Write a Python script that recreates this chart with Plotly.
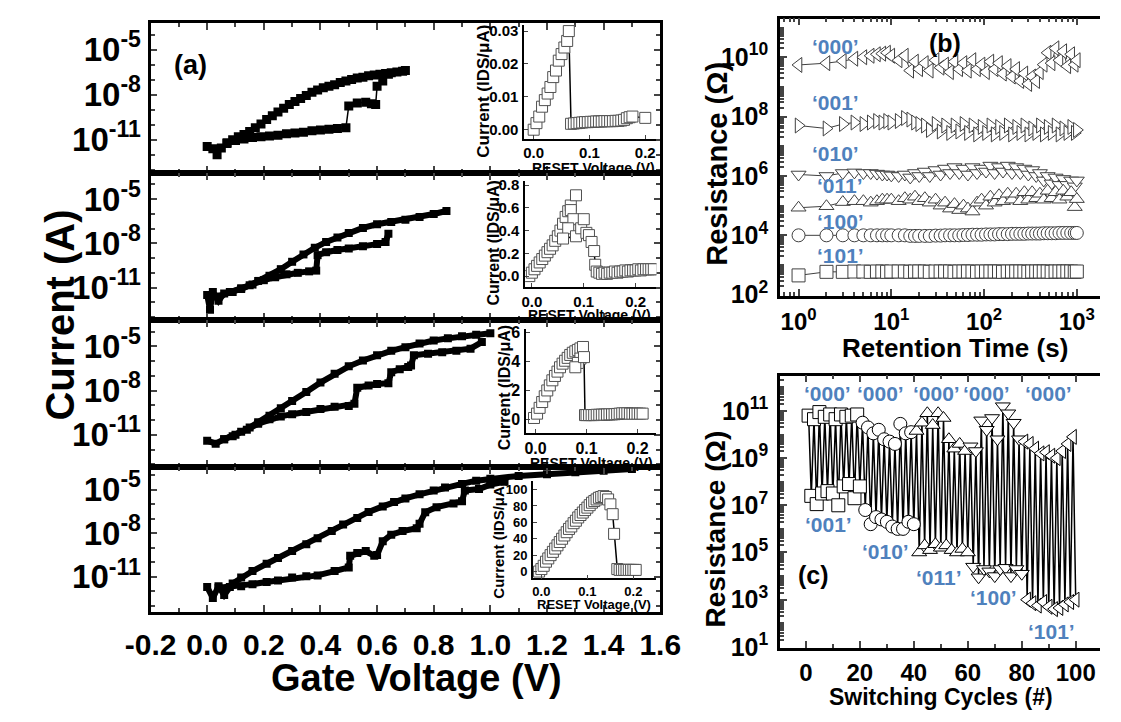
import numpy as np
import plotly.graph_objects as go

W, H = 1121, 722
SANS = "Liberation Sans, Arial, sans-serif"
BLUE = "#4F81BD"

# ---------------- Panel (a): Id-Vg sweeps (gate voltage V, log10 current A) ----------------
a1_up_v = [0.00, 0.02, 0.035, 0.05, 0.07, 0.09, 0.11, 0.13, 0.15, 0.17, 0.19, 0.21, 0.23, 0.25, 0.27, 0.29,
           0.31, 0.33, 0.35, 0.37, 0.39, 0.41, 0.43, 0.45, 0.47, 0.49, 0.51, 0.53, 0.55, 0.57, 0.59, 0.61,
           0.63, 0.65, 0.67, 0.69, 0.70]
a1_up_log = [-11.45, -11.6, -12.0, -11.55, -11.2, -11.0, -10.8, -10.65, -10.45, -10.2, -9.95, -9.65, -9.4,
             -9.15, -8.9, -8.65, -8.45, -8.25, -8.05, -7.85, -7.7, -7.55, -7.45, -7.35, -7.2, -7.1, -7.0,
             -6.9, -6.85, -6.75, -6.7, -6.65, -6.6, -6.55, -6.5, -6.45, -6.4]
a1_lo_v = [0.07, 0.10, 0.13, 0.16, 0.19, 0.22, 0.25, 0.28, 0.31, 0.34, 0.37, 0.40, 0.43, 0.46, 0.49, 0.50,
           0.53, 0.56, 0.58, 0.595, 0.60, 0.62, 0.64]
a1_lo_log = [-11.25, -11.05, -10.95, -10.85, -10.8, -10.75, -10.7, -10.6, -10.55, -10.5, -10.4, -10.35, -10.3,
             -10.25, -10.2, -8.75, -8.55, -8.5, -8.6, -8.65, -7.45, -7.1, -6.65]

a2_up_v = [0.0, 0.01, 0.02, 0.04, 0.06, 0.09, 0.12, 0.15, 0.18, 0.22, 0.26, 0.30, 0.34, 0.38, 0.42, 0.46,
           0.50, 0.55, 0.60, 0.65, 0.70, 0.75, 0.80, 0.845]
a2_up_log = [-11.5, -12.5, -11.3, -11.9, -11.4, -11.3, -11.1, -10.85, -10.55, -10.2, -9.75, -9.25, -8.75,
             -8.3, -7.9, -7.6, -7.3, -6.95, -6.7, -6.55, -6.4, -6.2, -6.0, -5.8]
a2_lo_v = [0.04, 0.08, 0.12, 0.16, 0.20, 0.24, 0.28, 0.32, 0.36, 0.385, 0.39, 0.42, 0.46, 0.50, 0.55, 0.60,
           0.63, 0.64]
a2_lo_log = [-11.6, -11.3, -11.05, -10.8, -10.5, -10.3, -10.1, -10.0, -9.9, -9.85, -8.8, -8.6, -8.45, -8.35,
             -8.2, -8.05, -7.9, -7.35]

a3_up_v = [0.0, 0.03, 0.06, 0.09, 0.12, 0.15, 0.18, 0.22, 0.26, 0.30, 0.35, 0.40, 0.45, 0.50, 0.55, 0.60,
           0.65, 0.70, 0.75, 0.80, 0.85, 0.90, 0.95, 1.0]
a3_up_log = [-11.4, -11.6, -11.3, -11.1, -10.8, -10.5, -10.15, -9.7, -9.2, -8.7, -8.1, -7.45, -6.85, -6.35,
             -5.95, -5.6, -5.3, -5.05, -4.8, -4.6, -4.45, -4.3, -4.2, -4.1]
a3_lo_v = [0.06, 0.10, 0.14, 0.18, 0.22, 0.26, 0.30, 0.35, 0.40, 0.45, 0.50, 0.52, 0.53, 0.57, 0.60, 0.64,
           0.65, 0.68, 0.71, 0.72, 0.73, 0.78, 0.83, 0.88, 0.93, 0.97]
a3_lo_log = [-11.3, -11.0, -10.65, -10.25, -9.95, -9.75, -9.6, -9.45, -9.25, -9.1, -9.05, -8.9, -7.8,
             -7.65, -7.55, -7.5, -6.75, -6.55, -6.4, -6.3, -5.6, -5.5, -5.4, -5.3, -5.15, -4.7]

a4_up_v = [0.0, 0.02, 0.04, 0.06, 0.09, 0.12, 0.16, 0.21, 0.25, 0.30, 0.35, 0.39, 0.44, 0.48, 0.53, 0.57,
           0.62, 0.66, 0.70, 0.75, 0.80, 0.84, 0.90, 0.95, 1.0, 1.1, 1.2, 1.3, 1.4, 1.5]
a4_up_log = [-11.7, -12.45, -11.65, -12.25, -11.45, -11.05, -10.6, -10.1, -9.7, -9.22, -8.75, -8.35, -7.85,
             -7.4, -6.95, -6.53, -6.15, -5.85, -5.6, -5.32, -5.05, -4.85, -4.6, -4.38, -4.25, -4.05, -3.93,
             -3.8, -3.7, -3.58]
a4_lo_v = [0.04, 0.08, 0.12, 0.16, 0.21, 0.25, 0.30, 0.35, 0.39, 0.45, 0.50, 0.505, 0.53, 0.56, 0.59, 0.60,
           0.62, 0.65, 0.69, 0.74, 0.75, 0.77, 0.81, 0.87, 0.90, 0.91, 0.96, 1.0, 1.05]
a4_lo_log = [-11.75, -11.7, -11.65, -11.5, -11.35, -11.25, -11.05, -10.95, -10.9, -10.6, -10.35, -9.55, -9.35,
             -9.22, -9.55, -9.5, -8.55, -8.1, -7.85, -7.65, -7.35, -6.55, -6.2, -5.95, -5.8, -5.05, -4.95,
             -4.65, -4.45]

a_ytick_exp = [-5, -8, -11]
a_ytick_text = ["10<sup>-5</sup>", "10<sup>-8</sup>", "10<sup>-11</sup>"]
a_xticks = [-0.2, 0.0, 0.2, 0.4, 0.6, 0.8, 1.0, 1.2, 1.4, 1.6]

# ---------------- Insets: RESET sweeps (V, IDS in uA) ----------------
i1_v = [0.0, 0.005, 0.01, 0.015, 0.02, 0.025, 0.03, 0.035, 0.04, 0.045, 0.05, 0.055, 0.06, 0.063, 0.067,
        0.072, 0.077, 0.082, 0.087, 0.092, 0.097, 0.102, 0.107, 0.112, 0.117, 0.122, 0.127, 0.132, 0.137,
        0.142, 0.147, 0.152, 0.157, 0.162, 0.167, 0.172, 0.177, 0.2]
i1_i = [0.0, 0.002, 0.004, 0.007, 0.009, 0.011, 0.013, 0.016, 0.018, 0.021, 0.023, 0.025, 0.027, 0.03, 0.0018,
        0.0019, 0.002, 0.0021, 0.0022, 0.0023, 0.0023, 0.0024, 0.0024, 0.0025, 0.0025, 0.0025, 0.0026, 0.0026,
        0.0026, 0.0026, 0.0027, 0.0027, 0.0028, 0.003, 0.0035, 0.0038, 0.004, 0.0036]

i2_v = [-0.005, 0.0, 0.005, 0.01, 0.015, 0.02, 0.025, 0.03, 0.035, 0.04, 0.045, 0.05, 0.055, 0.06, 0.065, 0.07,
        0.075, 0.085, 0.075, 0.08, 0.07, 0.06, 0.085, 0.095, 0.1, 0.105, 0.11, 0.115, 0.12, 0.122, 0.125, 0.13,
        0.135, 0.14, 0.145, 0.15, 0.155, 0.16, 0.165, 0.17, 0.175, 0.18, 0.185, 0.19, 0.195, 0.2, 0.205, 0.21,
        0.215, 0.22, 0.225, 0.23, 0.235]
i2_i = [0.0, 0.03, 0.06, 0.09, 0.12, 0.15, 0.18, 0.21, 0.24, 0.27, 0.31, 0.35, 0.4, 0.46, 0.52, 0.57, 0.62,
        0.71, 0.58, 0.5, 0.42, 0.33, 0.35, 0.42, 0.5, 0.38, 0.36, 0.3, 0.22, 0.1, 0.04, 0.03, 0.02, 0.03, 0.02,
        0.03, 0.03, 0.04, 0.03, 0.04, 0.04, 0.05, 0.04, 0.05, 0.05, 0.05, 0.06, 0.05, 0.06, 0.06, 0.06, 0.06,
        0.06]

i3_v = [-0.003, 0.003, 0.008, 0.013, 0.018, 0.023, 0.028, 0.033, 0.038, 0.043, 0.048, 0.053, 0.058, 0.063,
        0.068, 0.073, 0.078, 0.083, 0.088, 0.093, 0.088, 0.083, 0.078, 0.095, 0.097, 0.1, 0.105, 0.11, 0.115,
        0.12, 0.125, 0.13, 0.135, 0.14, 0.145, 0.15, 0.155, 0.16, 0.165, 0.17, 0.175, 0.18, 0.185, 0.19,
        0.195, 0.2, 0.205, 0.21]
i3_i = [0.1, 0.4, 0.8, 1.2, 1.6, 2.0, 2.35, 2.7, 3.0, 3.3, 3.6, 3.85, 4.05, 4.25, 4.45, 4.6, 4.7, 4.8, 4.9,
        5.0, 4.2, 3.9, 3.6, 4.3, 0.3, 0.3, 0.3, 0.3, 0.3, 0.32, 0.32, 0.33, 0.33, 0.34, 0.35, 0.35, 0.36,
        0.38, 0.4, 0.42, 0.42, 0.42, 0.4, 0.4, 0.4, 0.4, 0.4, 0.4]

i4_v = [-0.005, 0.0, 0.005, 0.01, 0.015, 0.02, 0.025, 0.03, 0.035, 0.04, 0.045, 0.05, 0.055, 0.06, 0.065,
        0.07, 0.075, 0.08, 0.085, 0.09, 0.095, 0.1, 0.105, 0.11, 0.115, 0.12, 0.125, 0.13, 0.135, 0.14,
        0.145, 0.15, 0.155, 0.158, 0.165, 0.17, 0.175, 0.18, 0.185, 0.19, 0.195, 0.2, 0.205]
i4_i = [0, 3, 7, 12, 16, 20, 24, 28, 32, 36, 40, 44, 48, 52, 55, 59, 62, 66, 69, 72, 75, 78, 81, 84, 86, 88,
        90, 91, 92, 91, 88, 82, 70, 46, 3, 2, 2, 2, 2, 2, 2, 2, 2]

# ---------------- Panel (b): retention (time s, log10 resistance) ----------------
b_t = [1, 2, 3, 4, 5, 6, 7, 8, 9, 10, 12, 14, 16, 18, 20, 23, 26, 30, 34, 38, 43, 48, 54, 60, 67, 75, 84, 94,
       105, 117, 130, 145, 160, 180, 200, 222, 246, 272, 300, 330, 365, 400, 440, 485, 535, 590, 650, 715,
       790, 870, 950, 1000]
b_000 = [9.74, 9.8, 9.87, 9.95, 10.0, 10.05, 10.1, 10.12, 10.15, 10.05,
         9.9, 10.05, 9.55, 9.85, 9.6, 9.8, 9.55, 9.9, 9.65, 9.75,
         9.5, 9.85, 9.6, 9.8, 9.55, 9.9, 9.6, 9.75, 9.5, 9.85,
         9.6, 9.8, 9.45, 9.7, 9.35, 9.6, 9.2, 9.45, 9.1, 9.35,
         9.2, 9.5, 9.75, 10.15, 9.8, 10.3, 9.9, 10.2, 9.7, 10.1, 9.75, 9.9]
b_001 = [7.7, 7.6, 7.75, 7.8, 7.75, 7.8, 7.85, 7.8, 7.85, 7.8,
         7.85, 7.95, 7.9, 7.8, 7.75, 7.7, 7.55, 7.75, 7.5, 7.7,
         7.45, 7.7, 7.5, 7.75, 7.45, 7.7, 7.4, 7.65, 7.45, 7.7,
         7.4, 7.65, 7.45, 7.7, 7.4, 7.65, 7.45, 7.7, 7.4, 7.6,
         7.45, 7.7, 7.4, 7.65, 7.45, 7.7, 7.4, 7.6, 7.45, 7.65, 7.45, 7.55]
b_010 = [6.05, 6.0, 6.1, 6.12, 6.1, 6.1, 6.08, 6.05, 6.05, 6.02,
         6.0, 6.05, 5.95, 6.1, 6.0, 6.15, 6.0, 6.2, 6.05, 6.25,
         6.1, 6.3, 6.1, 6.25, 6.05, 6.3, 6.1, 6.25, 6.15, 6.35,
         6.1, 6.3, 6.15, 6.35, 6.1, 6.3, 6.1, 6.25, 6.05, 6.2,
         6.0, 6.1, 5.85, 6.0, 5.75, 5.95, 5.7, 5.9, 5.7, 5.85, 5.65, 5.85]
b_011 = [4.93, 4.98, 5.12, 5.15, 5.15, 5.1, 5.15, 5.2, 5.2, 5.2,
         5.15, 5.25, 5.2, 5.3, 5.15, 5.25, 5.1, 5.2, 5.0, 5.1,
         4.9, 5.05, 4.85, 5.0, 4.9, 4.8, 5.1, 5.2, 5.0, 5.3,
         5.1, 5.35, 5.15, 5.4, 5.2, 5.4, 5.15, 5.45, 5.2, 5.45,
         5.25, 5.4, 5.2, 5.5, 5.25, 5.45, 5.2, 5.5, 5.3, 5.45, 4.95, 5.22]
b_100 = [4.0, 4.0, 4.0, 4.0, 4.0, 4.0, 4.0, 4.0, 4.0, 4.0,
         4.0, 4.0, 3.98, 3.98, 3.98, 3.98, 3.98, 3.99, 3.99, 4.0,
         4.0, 4.0, 4.0, 4.01, 4.01, 4.02, 4.02, 4.02, 4.03, 4.03,
         4.03, 4.04, 4.04, 4.04, 4.05, 4.05, 4.05, 4.05, 4.06, 4.06,
         4.06, 4.06, 4.07, 4.07, 4.07, 4.07, 4.08, 4.08, 4.08, 4.08, 4.08, 4.08]
b_101 = [2.65, 2.77, 2.77, 2.78, 2.78, 2.77, 2.78, 2.78, 2.77, 2.78,
         2.78, 2.78, 2.77, 2.78, 2.78, 2.78, 2.77, 2.78, 2.78, 2.78,
         2.78, 2.77, 2.78, 2.78, 2.78, 2.78, 2.77, 2.78, 2.78, 2.78,
         2.78, 2.78, 2.77, 2.78, 2.78, 2.78, 2.78, 2.78, 2.77, 2.78,
         2.78, 2.78, 2.78, 2.78, 2.77, 2.78, 2.78, 2.78, 2.78, 2.78, 2.77, 2.78]
b_labels = ["\u2018000\u2019", "\u2018001\u2019", "\u2018010\u2019", "\u2018011\u2019", "\u2018100\u2019", "\u2018101\u2019"]
b_ytick_exp = [2, 4, 6, 8, 10]
b_xtick_exp = [0, 1, 2, 3]

# ---------------- Panel (c): switching cycles (cycle #, log10 resistance) ----------------
c_cycle = list(range(1, 101))
c_log = [10.8, 7.4, 10.65, 7.05, 10.95, 7.5, 10.75, 7.6, 10.85, 7.5, 10.65, 7.0, 10.85, 7.8, 10.75, 7.9, 10.8, 7.3, 10.85, 7.8,
         10.5, 6.8, 10.3, 6.2, 10.05, 6.5, 10.2, 6.4, 9.8, 6.3, 9.7, 6.1, 9.6, 6.0, 10.45, 6.0, 10.05, 6.3, 10.1, 6.2,
         10.15, 5.0, 10.5, 5.3, 10.9, 5.1, 10.4, 5.35, 10.9, 5.2, 10.7, 5.3, 9.8, 5.1, 9.4, 5.0, 9.6, 5.15, 9.3, 5.0,
         9.5, 4.4, 9.3, 3.95, 10.6, 4.3, 10.2, 4.2, 10.7, 4.0, 9.8, 4.3, 11.2, 4.35, 10.9, 4.0, 10.5, 4.3, 9.8, 4.1,
         9.7, 3.0, 9.6, 2.85, 9.4, 2.75, 9.2, 2.9, 9.25, 2.7, 9.1, 2.6, 9.0, 2.65, 9.3, 2.8, 9.6, 2.9, 9.9, 3.0]
c_ytick_exp = [1, 3, 5, 7, 9, 11]
c_xticks = [0, 20, 40, 60, 80, 100]

# ---------------- helpers ----------------
def xdom(l, r):
    return [l / W, r / W]

def ydom(t, b):
    return [1 - b / H, 1 - t / H]

def sfx(k):
    return "" if k == 1 else str(k)

fig = go.Figure()

def add(k, x, y, **kw):
    fig.add_trace(go.Scatter(x=x, y=y, xaxis="x" + sfx(k), yaxis="y" + sfx(k),
                             showlegend=False, hoverinfo="skip", **kw))

main_sets = [(a1_up_v, a1_up_log, a1_lo_v, a1_lo_log),
             (a2_up_v, a2_up_log, a2_lo_v, a2_lo_log),
             (a3_up_v, a3_up_log, a3_lo_v, a3_lo_log),
             (a4_up_v, a4_up_log, a4_lo_v, a4_lo_log)]
for k, (uv, ul, lv, ll) in enumerate(main_sets, start=1):
    lw = 1.5 if k == 1 else 6
    ms = 9 if k == 1 else 8
    for vx, vl in ((uv, ul), (lv, ll)):
        add(k, vx, 10.0 ** np.array(vl), mode="lines+markers",
            line=dict(color="black", width=lw),
            marker=dict(symbol="square", size=ms, color="black"))

inset_sets = [(i1_v, i1_i), (i2_v, i2_i), (i3_v, i3_i), (i4_v, i4_i)]
for j, (vx, vi) in enumerate(inset_sets):
    add(5 + j, vx, vi, mode="lines+markers", line=dict(color="black", width=1.5),
        marker=dict(symbol="square", size=11, color="white", line=dict(color="#505050", width=1)))

b_series = [b_000, b_001, b_010, b_011, b_100, b_101]
b_symbols = ["triangle-left", "triangle-right", "triangle-down", "triangle-up", "circle", "square"]
for vals, sym in zip(b_series, b_symbols):
    add(9, b_t, 10.0 ** np.array(vals), mode="lines+markers", line=dict(color="#404040", width=1),
        marker=dict(symbol=sym, size=13, color="white", line=dict(color="#404040", width=1)))

c_group_symbols = ["square", "circle", "triangle-up", "triangle-down", "triangle-left"]
c_sym = [c_group_symbols[(c - 1) // 20] for c in c_cycle]
add(10, c_cycle, 10.0 ** np.array(c_log), mode="lines+markers", line=dict(color="black", width=1.5),
    marker=dict(symbol=c_sym, size=13, color="white", line=dict(color="black", width=1)))

# ---------------- layout ----------------
layout = dict(width=W, height=H, margin=dict(l=0, r=0, t=0, b=0),
              paper_bgcolor="white", plot_bgcolor="rgba(0,0,0,0)", showlegend=False)

a_doms = [(18, 172), (172, 323), (323, 474), (474, 623)]
a_ranges = [[-13.2, -3.2], [-13.2, -3.2], [-13.2, -3.2], [-13.45, -3.45]]
for k in range(1, 5):
    s = sfx(k)
    t, b = a_doms[k - 1]
    layout["xaxis" + s] = dict(domain=xdom(130, 662), anchor="y" + s, range=[-0.2, 1.6],
                               tickmode="array", tickvals=a_xticks, ticktext=["%.1f" % v for v in a_xticks],
                               tickangle=0, ticks="inside", ticklen=7, tickwidth=2,
                               minor=dict(dtick=0.1, tick0=0, ticks="inside", ticklen=4, tickwidth=2),
                               showline=True, linewidth=3, linecolor="black", mirror="allticks",
                               showgrid=False, zeroline=False, showticklabels=(k == 4),
                               tickfont=dict(family=SANS, size=30, color="black", weight="bold"),
                               ticklabelstandoff=4)
    layout["yaxis" + s] = dict(domain=ydom(t, b), anchor="x" + s, type="log", range=a_ranges[k - 1],
                               tickmode="array", tickvals=[10.0 ** e for e in a_ytick_exp], ticktext=a_ytick_text,
                               ticks="inside", ticklen=6, tickwidth=2,
                               minor=dict(tickmode="array", tickvals=[10.0 ** e for e in range(-14, -2)],
                                          ticks="inside", ticklen=4, tickwidth=2),
                               showline=True, linewidth=3, linecolor="black", mirror="allticks",
                               showgrid=False, zeroline=False,
                               tickfont=dict(family=SANS, size=33, color="black", weight="bold"),
                               ticklabelstandoff=0)

inset_geo = [((520, 658), (20, 137), [-0.017, 0.22], [-0.0027, 0.032], 0.01, ".2f", 15),
             ((521, 658), (180, 289), [-0.013, 0.24], [-0.094, 0.84], 0.2, ".1f", 15),
             ((522, 658), (332, 439), [-0.0185, 0.237], [-0.94, 6.26], 2, "d", 16),
             ((529, 658), (488, 588), [-0.0186, 0.25], [-8.3, 110.7], 20, "d", 13)]
for j, (xd, yd, xr, yr, ydt, yfmt, fs) in enumerate(inset_geo):
    s = str(5 + j)
    f = dict(family=SANS, size=fs, color="black", weight="bold")
    layout["xaxis" + s] = dict(domain=xdom(*xd), anchor="y" + s, range=xr, dtick=0.1, tick0=0, tickformat=".1f",
                               ticks="inside", ticklen=4, showline=True, linewidth=1.5, linecolor="black",
                               showgrid=False, zeroline=False, tickfont=f, ticklabelstandoff=0)
    layout["yaxis" + s] = dict(domain=ydom(*yd), anchor="x" + s, range=yr, dtick=ydt, tick0=0, tickformat=yfmt,
                               ticks="inside", ticklen=4, showline=True, linewidth=1.5, linecolor="black",
                               showgrid=False, zeroline=False, tickfont=f, ticklabelstandoff=1)

mid_font = dict(family=SANS, size=25, color="black", weight="bold")
layout["xaxis9"] = dict(domain=xdom(787, 1121), anchor="y9", type="log", range=[-0.2, 3.25],
                        tickmode="array", tickvals=[10.0 ** e for e in b_xtick_exp],
                        ticktext=["10<sup>%d</sup>" % e for e in b_xtick_exp],
                        ticks="inside", ticklen=7, tickwidth=2,
                        minor=dict(ticks="inside", ticklen=4, tickwidth=1.5, dtick="D1"),
                        showline=True, linewidth=2.5, linecolor="black", mirror="allticks",
                        showgrid=False, zeroline=False,
                        tickfont=dict(family=SANS, size=24, color="black", weight="bold"),
                        ticklabelstandoff=3)
layout["yaxis9"] = dict(domain=ydom(14, 298), anchor="x9", type="log", range=[1.97, 11.3],
                        tickmode="array", tickvals=[10.0 ** e for e in b_ytick_exp],
                        ticktext=["10<sup>%d</sup>" % e for e in b_ytick_exp],
                        ticks="inside", ticklen=7, tickwidth=2,
                        minor=dict(ticks="inside", ticklen=4, tickwidth=1.5, dtick="D1"),
                        showline=True, linewidth=2.5, linecolor="black",
                        showgrid=False, zeroline=False, tickfont=mid_font, ticklabelstandoff=4)
layout["xaxis10"] = dict(domain=xdom(787, 1121), anchor="y10", range=[-9.6, 109],
                         tickmode="array", tickvals=c_xticks, ticktext=[str(v) for v in c_xticks],
                         ticks="inside", ticklen=7, tickwidth=2,
                         minor=dict(ticks="inside", ticklen=4, tickwidth=1.5, dtick=10, tick0=0),
                         showline=True, linewidth=2.5, linecolor="black", mirror="allticks",
                         showgrid=False, zeroline=False,
                         tickfont=dict(family=SANS, size=24, color="black", weight="bold"),
                         ticklabelstandoff=2)
layout["yaxis10"] = dict(domain=ydom(380, 659), anchor="x10", type="log", range=[0.97, 12.5],
                         tickmode="array", tickvals=[10.0 ** e for e in c_ytick_exp],
                         ticktext=["10<sup>%d</sup>" % e for e in c_ytick_exp],
                         ticks="inside", ticklen=7, tickwidth=2,
                         minor=dict(ticks="inside", ticklen=4, tickwidth=1.5, dtick="D1"),
                         showline=True, linewidth=2.5, linecolor="black",
                         showgrid=False, zeroline=False, tickfont=mid_font, ticklabelstandoff=4)

# ---------------- annotations ----------------
ann = []

def text(px, py, s, size, color="black", angle=0):
    ann.append(dict(x=px / W, y=1 - py / H, xref="paper", yref="paper", text=s, showarrow=False,
                    xanchor="center", yanchor="middle", textangle=angle,
                    font=dict(family=SANS, size=size, color=color, weight="bold")))

text(36, 318, "Current (A)", 40, angle=-90)
text(408, 690, "Gate Voltage (V)", 38)
text(172, 62, "(a)", 27)

inset_titles = [((478, 88), (592, 167), 17, 14), ((488, 244), (588, 318), 16, 14),
                ((499, 393), (590, 470), 16, 14), ((493, 548), (593, 615), 15, 13)]
for (yt, xt, fy, fx) in inset_titles:
    text(yt[0], yt[1], "Current (IDS/\u03bcA)", fy, angle=-90)
    text(xt[0], xt[1], "RESET Voltage (V)", fx)

text(721, 163, "Resistance (\u03a9)", 29, angle=-90)
text(970, 352, "Retention Time (s)", 26)
text(959, 39, "(b)", 25)
b_label_pos = [(845, 43), (845, 100), (845, 152), (850, 185), (850, 222), (850, 257)]
for lab, (x0, y0) in zip(b_labels, b_label_pos):
    text(x0, y0, lab, 21, color=BLUE)

text(720, 537, "Resistance (\u03a9)", 28, angle=-90)
text(955, 710, "Switching Cycles (#)", 23)
text(822, 585, "(c)", 25)
c_label_text = ["\u2018000\u2019"] * 5 + ["\u2018001\u2019", "\u2018010\u2019", "\u2018011\u2019", "\u2018100\u2019", "\u2018101\u2019"]
c_label_pos = [(837, 398), (892, 398), (950, 398), (1003, 398), (1067, 398),
               (838, 533), (897, 560), (953, 587), (1010, 608), (1070, 643)]
for lab, (x0, y0) in zip(c_label_text, c_label_pos):
    text(x0, y0, lab, 21, color=BLUE)

layout["annotations"] = ann
fig.update_layout(**layout)
fig.write_html("out.html")
